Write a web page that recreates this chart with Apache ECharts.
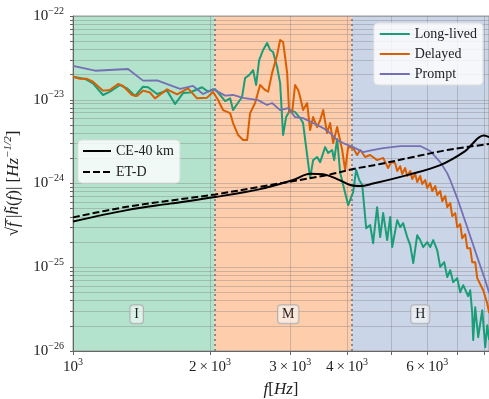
<!DOCTYPE html>
<html>
<head>
<meta charset="utf-8">
<script src="https://cdn.jsdelivr.net/npm/echarts@6/dist/echarts.min.js"></script>
<style>
  html, body { margin: 0; padding: 0; background: #fff; }
  #chart { width: 489px; height: 399px; }
</style>
</head>
<body>
<div id="chart"></div>
<script>
// frequencies [Hz] and strain values
const longLivedF = [1000,1063,1106,1164,1206,1269,1314,1369,1425,1462,1530,1609,1676,1745,1808,1920,1980,2052,2104,2159,2214,2247,2294,2352,2388,2437,2487,2525,2564,2616,2669,2710,2751,2808,2851,2894,2939,2999,3075,3155,3202,3234,3318,3369,3438,3491,3580,3635,3709,3747,3804,3863,3922,4022,4125,4188,4253,4318,4406,4496,4563,4656,4729,4801,4899,4975,5025,5155,5233,5312,5422,5505,5590,5703,5790,5879,5998,6091,6184,6310,6407,6538,6638,6740,6843,6983,7089,7197,7382,7457,7533,7569,7648,7763,7925,8046,8126,8209]
const longLivedH = [1.88e-23,1.77e-23,1.57e-23,1.14e-23,1.25e-23,1.50e-23,1.37e-23,1.11e-23,1.43e-23,1.41e-23,1.17e-23,1.285e-23,8.89e-24,1.20e-23,1.22e-23,1.41e-23,1.25e-23,1.34e-23,1.14e-23,9.65e-24,1.04e-23,7.53e-24,8.89e-24,1.08e-23,1.82e-23,1.97e-23,2.26e-23,1.50e-23,2.98e-23,3.93e-23,4.76e-23,3.93e-23,3.72e-23,2.46e-23,1.58e-23,3.79e-24,6.21e-24,7.53e-24,7.13e-24,6.05e-24,5.27e-24,3.40e-24,1.16e-24,1.90e-24,2.07e-24,1.80e-24,2.72e-24,2.31e-24,2.51e-24,1.90e-24,3.40e-24,1.34e-24,9.59e-25,5.52e-25,7.89e-25,1.45e-24,1.10e-24,9.59e-25,2.93e-25,3.18e-25,1.94e-25,5.22e-25,2.29e-25,4.43e-25,2.11e-25,3.97e-25,1.74e-25,3.65e-25,3.01e-25,3.36e-25,2.29e-25,1.84e-25,1.12e-25,2.41e-25,2.11e-25,1.74e-25,2.00e-25,1.74e-25,2.11e-25,1.60e-25,1.01e-25,1.15e-25,7.62e-26,9.23e-26,6.64e-26,7.41e-26,5.04e-26,6.11e-26,4.51e-26,5.32e-26,2.83e-26,1.35e-26,3.33e-26,1.46e-26,3.07e-26,1.11e-26,2.03e-26,1.35e-26]

const delayedF = [1000,1036,1073,1106,1164,1206,1256,1288,1348,1382,1425,1476,1514,1609,1693,1789,1873,1970,2031,2083,2136,2214,2247,2305,2364,2413,2449,2512,2576,2642,2684,2737,2808,2851,2894,2924,2954,2984,3030,3075,3123,3155,3202,3268,3318,3369,3438,3491,3545,3615,3672,3728,3804,3902,3961,4022,4125,4209,4274,4383,4496,4656,4801,4923,5000,5102,5155,5233,5286,5366,5422,5505,5561,5646,5703,5790,5849,5938,5998,6091,6153,6247,6310,6407,6472,6571,6638,6740,6809,6913,6983,7089,7161,7271,7345,7457,7533,7648,7726,7963,8126,8209]
const delayedH = [1.88e-23,1.78e-23,1.78e-23,1.64e-23,1.285e-23,1.31e-23,1.54e-23,1.46e-23,1.14e-23,1.11e-23,1.285e-23,1.22e-23,1.04e-23,1.33e-23,1.16e-23,1.37e-23,1.04e-23,1.06e-23,1.24e-23,9.92e-24,7.53e-24,6.93e-24,5.27e-24,3.79e-24,3.30e-24,3.30e-24,6.93e-24,9.14e-24,1.50e-23,1.31e-23,1.25e-23,2.08e-23,3.43e-23,5.17e-23,4.89e-23,3.24e-23,2.08e-23,7.13e-24,7.13e-24,1.50e-23,1.31e-23,1.08e-23,7.53e-24,9.14e-24,4.35e-24,6.21e-24,4.72e-24,5.72e-24,7.53e-24,4.01e-24,5.27e-24,3.04e-24,4.72e-24,2.51e-24,1.45e-24,2.72e-24,2.65e-24,2.19e-24,2.51e-24,2.07e-24,2.19e-24,1.90e-24,2.02e-24,1.53e-24,1.80e-24,1.75e-24,1.41e-24,1.61e-24,1.30e-24,1.53e-24,1.23e-24,1.41e-24,1.13e-24,1.30e-24,1.04e-24,1.23e-24,9.86e-25,1.10e-24,8.83e-25,1.01e-24,8.11e-25,9.33e-25,7.27e-25,8.11e-25,6.16e-25,7.07e-25,5.22e-25,5.83e-25,4.08e-25,4.43e-25,3.01e-25,3.27e-25,2.22e-25,2.48e-25,1.69e-25,1.69e-25,1.15e-25,1.15e-25,7.41e-26,5.32e-26,3.72e-26,2.83e-26]

const promptF = [1000,1118,1321,1425,1530,1719,1835,1931,2031,2159,2247,2364,2550,2669,2737,2851,2969,3075,3202,3369,3545,3672,3804,3922,4125,4339,4542,4801,5233,5790,6091,6407,6637,6740,6982,7345,7727,8046,8209]
const promptH = [2.53e-23,2.22e-23,2.33e-23,1.69e-23,1.70e-23,1.35e-23,1.46e-23,1.17e-23,1.34e-23,1.12e-23,1.14e-23,1.05e-23,9.9e-24,8.65e-24,9.14e-24,7.53e-24,7.96e-24,6.21e-24,6.04e-24,5.27e-24,4.59e-24,4.0e-24,3.3e-24,3.04e-24,2.72e-24,2.37e-24,2.51e-24,2.65e-24,2.80e-24,2.80e-24,2.44e-24,1.80e-24,1.33e-24,1.10e-24,6.70e-25,3.01e-25,1.32e-25,7.01e-26,4.91e-26]

const ceF = [1000,1314,1634,2052,2576,3045,3318,3545,3804,4063,4274,4563,5421,6407,7269,7569,7763,7963,8209]
const ceH = [3.51e-25,4.81e-25,5.75e-25,6.89e-25,8.57e-25,1.10e-24,1.31e-24,1.29e-24,1.13e-24,9.58e-25,9.31e-25,9.98e-25,1.26e-24,1.66e-24,2.44e-24,3.04e-24,3.49e-24,3.73e-24,3.58e-24]

const etF = [1000,1314,2052,2576,3615,4125,4729,5587,6637,8209]
const etH = [3.94e-25,5.27e-25,7.41e-25,9.14e-25,1.26e-24,1.49e-24,1.71e-24,2.07e-24,2.51e-24,2.96e-24]

// frequency bands
const regionEdges = [1000, 2048, 4096, 8200]
const regionNames = ['I', 'M', 'H']
const regionLabelF = [1380, 2970, 5790]
const regionLabelH = 2.75e-26
const regionColors = ['#b3e2cd', '#fdcdac', '#cbd5e8']

const xTickValues = [1000, 2000, 3000, 4000, 5000, 6000, 7000, 8000]
const xLabelValues = [1000, 2000, 3000, 4000, 6000]

// ECharts log scale rounds tiny numbers to 0, so y is plotted in units of 1e-26
const Y_UNIT = 1e-26
const Y_UNIT_EXP = -26

const SERIF = '"Liberation Serif", "DejaVu Serif", serif'
const TEXT = '#222'
const GRID = 'rgba(120,120,120,0.35)'

const yTickValues = []
for (let d = 0; d < 4; d++) {
  for (let k = 1; k < 10; k++) yTickValues.push(k * Math.pow(10, d))
}
yTickValues.push(10000)
const yLabelValues = [1, 10, 100, 1000, 10000]

const pairs = (f, h) => f.map((x, i) => [x, h[i] / Y_UNIT])

const supRich = {
  b: {fontFamily: SERIF, fontSize: 15, color: TEXT, lineHeight: 20},
  s: {fontFamily: SERIF, fontSize: 10, color: TEXT, lineHeight: 10, verticalAlign: 'top'}
}
const nameRich = {
  r: {fontFamily: SERIF, fontSize: 17, color: TEXT, lineHeight: 22},
  i: {fontFamily: SERIF, fontSize: 17, fontStyle: 'italic', color: TEXT, lineHeight: 22},
  s: {fontFamily: SERIF, fontSize: 11, fontStyle: 'italic', color: TEXT, lineHeight: 12, verticalAlign: 'top'}
}

const chart = echarts.init(document.getElementById('chart'))

const lineSeries = (name, f, h, color, extra) => Object.assign({
  name: name,
  type: 'line',
  data: pairs(f, h),
  symbol: 'none',
  silent: true,
  lineStyle: {color: color, width: 2, join: 'round'},
  itemStyle: {color: color},
  z: 3
}, extra || {})

const legendBase = {
  orient: 'vertical',
  itemTextGap: 10,
  itemHeight: 14,
  backgroundColor: 'rgba(255,255,255,0.8)',
  borderColor: '#ddd',
  borderWidth: 1,
  borderRadius: 4,
  // hide the circle that line series put in the legend icon
  itemStyle: {color: 'rgba(0,0,0,0)', borderColor: 'rgba(0,0,0,0)', borderWidth: 0},
  textStyle: {fontFamily: SERIF, fontSize: 14, color: TEXT}
}

const option = {
  animation: false,
  backgroundColor: '#fff',
  grid: {
    left: 73, right: 0, top: 16, bottom: 48,
    outerBoundsMode: 'none',
    show: true, borderColor: '#999', borderWidth: 1
  },
  legend: [
    Object.assign({}, legendBase, {
      data: ['Long-lived', 'Delayed', 'Prompt'],
      right: 6,
      top: 23,
      padding: [4, 6, 4, 5],
      itemGap: 6,
      itemWidth: 30
    }),
    Object.assign({}, legendBase, {
      data: ['CE-40 km', 'ET-D'],
      left: 78,
      top: 140,
      padding: [4, 6, 4, 4],
      itemGap: 7,
      itemWidth: 28
    })
  ],
  xAxis: {
    type: 'log',
    min: 1000,
    max: 8200,
    name: '{i|f}{r|[}{i|Hz}{r|]}',
    nameLocation: 'middle',
    nameGap: 28,
    nameTextStyle: {rich: nameRich},
    axisLine: {show: true, lineStyle: {color: '#666'}},
    axisTick: {show: true, length: 4, customValues: xTickValues, lineStyle: {color: '#666'}},
    axisLabel: {
      customValues: xLabelValues,
      margin: 6,
      formatter: (v) => {
        const k = Math.round(v / 1000)
        return k === 1 ? '{b|10}{s|3}' : '{b|' + k + '\u2009×\u200910}{s|3}'
      },
      rich: supRich
    },
    splitLine: {show: true, lineStyle: {color: GRID, width: 1}}
  },
  yAxis: {
    type: 'log',
    min: 1,
    max: 10000,
    name: '{r|√}{i|f\u0305}{r| |}{i|h\u0303}{r|(}{i|f}{r|)| [}{i|Hz}{s|−1/2}{r|]}',
    nameLocation: 'middle',
    nameGap: 42,
    nameRotate: 90,
    nameTextStyle: {rich: nameRich},
    axisLine: {show: true, lineStyle: {color: '#666'}},
    axisTick: {show: true, length: 3, customValues: yTickValues, lineStyle: {color: '#666'}},
    axisLabel: {
      customValues: yLabelValues,
      margin: 9,
      formatter: (v) => {
        const e = Math.round(Math.log10(v)) + Y_UNIT_EXP
        return '{b|10}{s|−' + (-e) + '}'
      },
      rich: supRich
    },
    splitLine: {show: true, lineStyle: {color: GRID, width: 1}}
  },
  series: [
    {
      name: 'bands',
      type: 'line',
      data: [],
      silent: true,
      z: -1,
      markArea: {
        silent: true,
        z: -1,
        data: regionColors.map((c, i) => [
          {xAxis: regionEdges[i], itemStyle: {color: c, opacity: 1}},
          {xAxis: regionEdges[i + 1]}
        ])
      },
      markLine: {
        silent: true,
        z: 1,
        symbol: 'none',
        label: {show: false},
        lineStyle: {type: [2, 3], color: '#777', width: 1.6},
        data: [{xAxis: regionEdges[1]}, {xAxis: regionEdges[2]}]
      }
    },
    lineSeries('Long-lived', longLivedF, longLivedH, '#1b9e77'),
    lineSeries('Delayed', delayedF, delayedH, '#d95f02'),
    lineSeries('Prompt', promptF, promptH, '#7570b3', {lineStyle: {color: '#7570b3', width: 1.8, join: 'round'}}),
    lineSeries('CE-40 km', ceF, ceH, '#000', {smooth: 0.35, z: 4}),
    lineSeries('ET-D', etF, etH, '#000', {smooth: 0.35, z: 4, lineStyle: {color: '#000', width: 2, type: [7, 3]}}),
    {
      name: 'band labels',
      type: 'line',
      data: [],
      silent: true,
      z: 5,
      markPoint: {
        silent: true,
        symbol: 'rect',
        symbolSize: 0,
        label: {
          show: true,
          position: 'inside',
          formatter: (p) => p.name,
          fontFamily: SERIF,
          fontSize: 14,
          color: TEXT,
          backgroundColor: 'rgba(255,255,255,0.55)',
          borderColor: 'rgba(170,170,170,0.8)',
          borderWidth: 1,
          borderRadius: 3,
          padding: [3, 4, 1, 4]
        },
        data: regionNames.map((n, i) => ({name: n, coord: [regionLabelF[i], regionLabelH / Y_UNIT]}))
      }
    }
  ]
}

chart.setOption(option)
</script>
</body>
</html>
